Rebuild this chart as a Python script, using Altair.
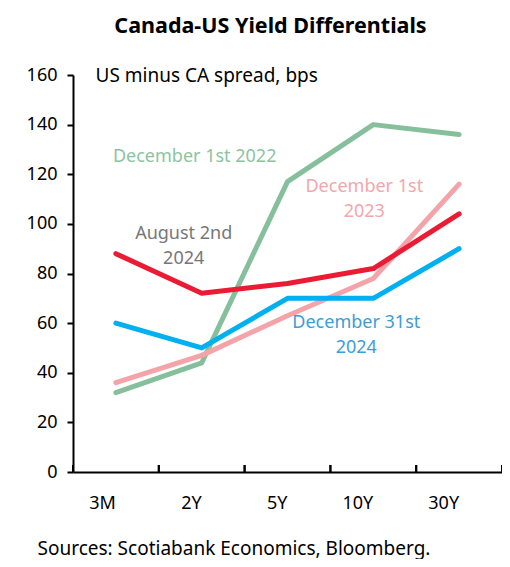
import altair as alt
import pandas as pd

tenors = ["3M", "2Y", "5Y", "10Y", "30Y"]
series_names = ["December 1st 2022", "December 1st 2023", "December 31st 2024", "August 2nd 2024"]
dec2022 = [32, 44, 117, 140, 136]
dec2023 = [36, 47, 63, 78, 116]
dec2024 = [60, 50, 70, 70, 90]
aug2024 = [88, 72, 76, 82, 104]
line_colors = ["#86bf9c", "#f4a4a9", "#00b0f0", "#ec1b34"]

label_texts = ["December 1st 2022", "December 1st\n2023", "August 2nd\n2024", "December 31st\n2024"]
label_tenor = ["2Y", "10Y", "2Y", "10Y"]
label_value = [127, 115, 96, 60]
label_dx = [-7, -9, -18, -17]
label_colors = ["#8cc4a1", "#f5a6ac", "#777777", "#3d9dd6"]

rows = []
for name, vals in zip(series_names, [dec2022, dec2023, dec2024, aug2024]):
    for t, v in zip(tenors, vals):
        rows.append({"series": name, "tenor": t, "value": v})
df = pd.DataFrame(rows)

W, H = 429, 397
FONT = "Noto Sans"

xscale = alt.Scale(type="band", domain=tenors, paddingInner=0, paddingOuter=0)
yscale = alt.Scale(domain=[0, 160])

lines = alt.Chart(df).mark_line(strokeWidth=5, strokeCap="round", strokeJoin="round").encode(
    x=alt.X("tenor:N", sort=tenors, scale=xscale, bandPosition=0.5,
            axis=alt.Axis(title="Sources: Scotiabank Economics, Bloomberg.", titleX=-36, titleY=82,
                          titleAlign="left", titleBaseline="alphabetic", titleFontSize=19,
                          titleFontWeight="normal", titleColor="#000", titleFont=FONT,
                          ticks=False, labelFontSize=18, labelColor="#000", labelFont=FONT,
                          labelPadding=31, labelAngle=0, domainColor="#000", domainWidth=2)),
    y=alt.Y("value:Q", scale=yscale,
            axis=alt.Axis(title="US minus CA spread, bps", titleAngle=0, titleX=22, titleY=0,
                          titleAlign="left", titleBaseline="middle", titleFontSize=19,
                          titleFontWeight="normal", titleColor="#000", titleFont=FONT,
                          values=list(range(0, 161, 20)), grid=False, tickSize=6, tickWidth=2,
                          tickColor="#000", domainColor="#000", domainWidth=2,
                          labelFontSize=18, labelColor="#000", labelFont=FONT, labelPadding=10)),
    color=alt.Color("series:N", scale=alt.Scale(domain=series_names, range=line_colors), legend=None),
    order=alt.Order("tenor_idx:Q"),
).transform_calculate(tenor_idx="indexof(['3M','2Y','5Y','10Y','30Y'], datum.tenor)")

tick_df = pd.DataFrame({"tenor": tenors})
ticks0 = alt.Chart(tick_df).mark_rule(color="#000", strokeWidth=2).encode(
    x=alt.X("tenor:N", sort=tenors, scale=xscale, bandPosition=0),
    y=alt.value(H), y2=alt.value(H - 7))
ticks1 = alt.Chart(tick_df).mark_rule(color="#000", strokeWidth=2).encode(
    x=alt.X("tenor:N", sort=tenors, scale=xscale, bandPosition=1),
    y=alt.value(H), y2=alt.value(H - 7))

label_layers = []
for txt, t, v, dx, c in zip(label_texts, label_tenor, label_value, label_dx, label_colors):
    ldf = pd.DataFrame({"tenor": [t], "value": [v], "text": [txt]})
    label_layers.append(
        alt.Chart(ldf).mark_text(font=FONT, fontSize=18, color=c, dx=dx, lineBreak="\n",
                                 lineHeight=25, align="center", baseline="middle").encode(
            x=alt.X("tenor:N", sort=tenors, scale=xscale, bandPosition=0.5),
            y=alt.Y("value:Q", scale=yscale),
            text="text:N"))

chart = alt.layer(ticks0, ticks1, lines, *label_layers).properties(
    width=W, height=H,
    title=alt.TitleParams("Canada-US Yield Differentials", font=FONT, fontSize=21.5, fontWeight="bold",
                          color="#000", anchor="middle", dx=-17, offset=29),
    autosize=alt.AutoSizeParams(type="none"),
    padding={"left": 65, "top": 67, "right": 0, "bottom": 87},
).configure_view(stroke=None)

chart.save("out.html", embed_options={"renderer": "svg", "actions": False})
